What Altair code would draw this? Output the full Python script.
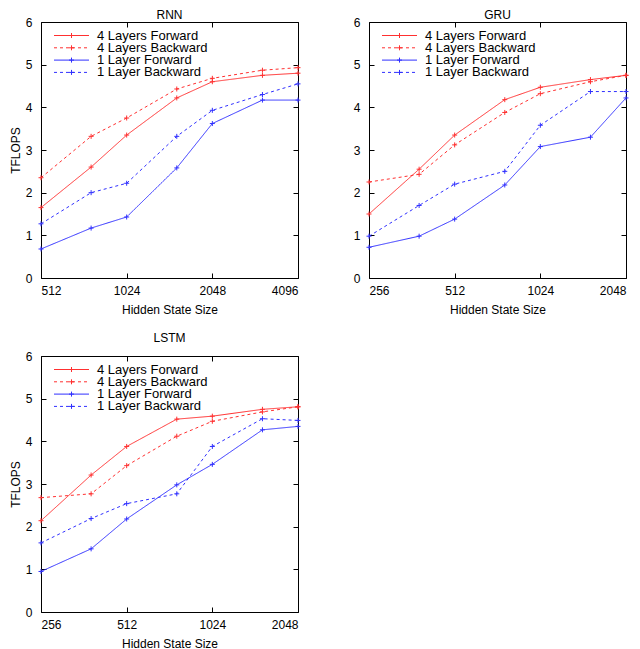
import altair as alt
import pandas as pd

series_names = ["4 Layers Forward", "4 Layers Backward", "1 Layer Forward", "1 Layer Backward"]
series_colors = ["#ff3030", "#ff3030", "#3030ff", "#3030ff"]
series_dash = [[1, 0], [3, 3], [1, 0], [3, 3]]

# RNN
rnn_x = [512, 768, 1024, 1536, 2048, 3072, 4096]
rnn_ticks = [512, 1024, 2048, 4096]
rnn_4f = [1.65, 2.60, 3.35, 4.22, 4.60, 4.75, 4.80]
rnn_4b = [2.35, 3.32, 3.75, 4.43, 4.68, 4.87, 4.93]
rnn_1f = [0.68, 1.17, 1.43, 2.58, 3.62, 4.17, 4.17]
rnn_1b = [1.27, 2.00, 2.22, 3.32, 3.93, 4.30, 4.55]

# GRU
gru_x = [256, 384, 512, 768, 1024, 1536, 2048]
gru_ticks = [256, 512, 1024, 2048]
gru_4f = [1.50, 2.55, 3.35, 4.18, 4.47, 4.65, 4.75]
gru_4b = [2.25, 2.43, 3.12, 3.88, 4.32, 4.60, 4.75]
gru_1f = [0.72, 0.98, 1.38, 2.18, 3.08, 3.30, 4.22]
gru_1b = [0.98, 1.70, 2.20, 2.50, 3.58, 4.37, 4.37]

# LSTM
lstm_x = [256, 384, 512, 768, 1024, 1536, 2048]
lstm_ticks = [256, 512, 1024, 2048]
lstm_4f = [2.14, 3.21, 3.88, 4.52, 4.59, 4.75, 4.81]
lstm_4b = [2.68, 2.77, 3.43, 4.12, 4.47, 4.69, 4.81]
lstm_1f = [0.95, 1.48, 2.18, 2.98, 3.46, 4.27, 4.35]
lstm_1b = [1.62, 2.19, 2.54, 2.77, 3.88, 4.53, 4.49]

y_ticks = [0, 1, 2, 3, 4, 5, 6]

FONT = "Liberation Sans"
PLUS = "M-1,0L1,0M0,-1L0,1"
W, H = 257, 256


def build_df(xs, ys_list):
    rows = []
    for name, ys in zip(series_names, ys_list):
        for x, y in zip(xs, ys):
            rows.append({"size": x, "tflops": y, "series": name})
    return pd.DataFrame(rows)


def panel(title, xs, ticks, ys_list, ytitle, title_y):
    df = build_df(xs, ys_list)
    xscale = alt.Scale(type="log", base=2, domain=[xs[0], xs[-1]], nice=False)
    yscale = alt.Scale(domain=[0, 6], nice=False)
    xenc = alt.X(
        "size:Q", scale=xscale,
        axis=alt.Axis(values=ticks, format="d", title="Hidden State Size",
                      domain=False, tickSize=5, offset=-5, labelPadding=7,
                      titlePadding=8, grid=False),
    )
    yenc = alt.Y(
        "tflops:Q", scale=yscale,
        axis=alt.Axis(values=y_ticks, title=ytitle,
                      domain=False, tickSize=5, offset=-5, labelPadding=9,
                      titlePadding=3, grid=False),
    )
    color = alt.Color("series:N", scale=alt.Scale(domain=series_names, range=series_colors), legend=None)
    dash = alt.StrokeDash("series:N", scale=alt.Scale(domain=series_names, range=series_dash), legend=None)

    lines = alt.Chart(df).mark_line(strokeWidth=1).encode(
        x=xenc, y=yenc, color=color, strokeDash=dash, order="size:Q",
    )
    pts = alt.Chart(df).mark_point(shape=PLUS, size=25, filled=False, strokeWidth=1, opacity=1).encode(
        x=alt.X("size:Q", scale=xscale, axis=None),
        y=alt.Y("tflops:Q", scale=yscale, axis=None),
        color=color,
    )
    mirror = alt.Chart(df).mark_point(opacity=0).encode(
        x=alt.X("size:Q", scale=xscale,
                axis=alt.Axis(values=ticks, orient="top", labels=False, title=None,
                              domain=False, tickSize=5, offset=-5, grid=False)),
        y=alt.Y("tflops:Q", scale=yscale,
                axis=alt.Axis(values=y_ticks, orient="right", labels=False, title=None,
                              domain=False, tickSize=5, offset=-5, grid=False)),
    )
    tdf = pd.DataFrame({"title": [title]})
    ttl = alt.Chart(tdf).mark_text(align="center", baseline="middle", fontSize=12, font=FONT, color="black").encode(
        x=alt.value(W / 2), y=alt.value(title_y), text="title:N",
    )

    layers = [lines, pts, mirror, ttl]
    for i, name in enumerate(series_names):
        ldf = pd.DataFrame({"series": [name], "panel": [title]})
        yy = 13.5 + 12.3 * i
        rule_enc = dict(x=alt.value(13), x2=alt.value(48), y=alt.value(yy),
                        color=alt.value(series_colors[i]))
        if series_dash[i] != [1, 0]:
            rule_enc["strokeDash"] = alt.value(series_dash[i])
        layers.append(alt.Chart(ldf).mark_rule(strokeWidth=1).encode(**rule_enc))
        layers.append(alt.Chart(ldf).mark_point(shape=PLUS, size=25, filled=False, strokeWidth=1, opacity=1).encode(
            x=alt.value(30.5), y=alt.value(yy), color=alt.value(series_colors[i]),
        ))
        layers.append(alt.Chart(ldf).mark_text(align="left", baseline="middle", fontSize=13, font=FONT, color="black").encode(
            x=alt.value(56), y=alt.value(yy), text="series:N",
        ))

    return alt.layer(*layers).resolve_axis(x="independent", y="independent").properties(
        width=W, height=H,
    )


rnn = panel("RNN", rnn_x, rnn_ticks, [rnn_4f, rnn_4b, rnn_1f, rnn_1b], "TFLOPS", -7)
gru = panel("GRU", gru_x, gru_ticks, [gru_4f, gru_4b, gru_1f, gru_1b], None, -7)
lstm = panel("LSTM", lstm_x, lstm_ticks, [lstm_4f, lstm_4b, lstm_1f, lstm_1b], "TFLOPS", -18)

top = alt.hconcat(rnn, gru, spacing=49)
chart = alt.vconcat(top, lstm, spacing=15).properties(
    padding=0
).configure_view(
    stroke="black", strokeWidth=1
).configure_axis(
    labelFont=FONT, titleFont=FONT, labelFontSize=12, titleFontSize=12,
    titleFontWeight="normal", labelColor="black", titleColor="black", tickColor="black",
)

chart.save("out.html", embed_options={"renderer": "svg", "actions": False})
